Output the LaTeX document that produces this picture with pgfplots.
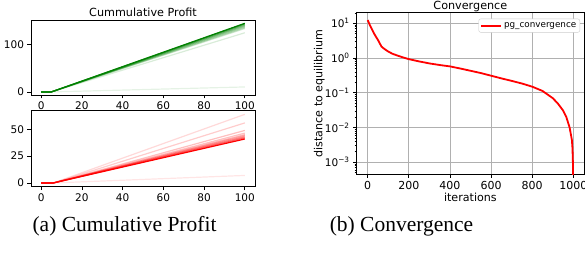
\documentclass[border=0pt]{standalone}
\usepackage{fontspec}
\setmainfont{Liberation Serif}
\newfontfamily\dejavu{DejaVu Sans}
\usepackage{pgfplots}
\pgfplotsset{compat=1.18}
\definecolor{mplgreen}{RGB}{0,128,0}
\definecolor{mplred}{RGB}{255,0,0}
\definecolor{gridgray}{RGB}{176,176,176}
\pgfplotsset{
  every axis title shift=0pt,
  base/.style={
    scale only axis,
    anchor=south west,
    axis line style={black, line width=0.8pt},
    tick align=outside,
    xtick pos=left, ytick pos=left,
    major tick length=3.5pt,
    minor tick length=2pt,
    every tick/.style={black, line width=0.8pt},
    every minor tick/.style={black, line width=0.6pt},
    /pgf/number format/assume math mode=true,
    /pgf/number format/1000 sep={},
    ticklabel style={font=\dejavu\fontsize{10.5}{12}\selectfont},
    title style={font=\dejavu\fontsize{11.2}{13}\selectfont, at={(0.5,1)}, anchor=base, yshift=3.5pt},
  },
  gline/.style={mplgreen, line width=1.2pt, no marks},
  rline/.style={mplred, line width=1.2pt, no marks},
}
\begin{document}
\begin{tikzpicture}
\useasboundingbox (0,0) rectangle (585pt,254pt);
% ---------- top-left: cumulative profit (green) ----------
\begin{axis}[base, at={(31pt,159pt)}, width=224pt, height=75pt,
  xmin=-5, xmax=105, ymin=-6.5, ymax=152,
  xtick={0,20,40,60,80,100}, ytick={0,100},
  title={Cummulative Profit}]
\addplot[gline, opacity=0.1] coordinates {(0,0) (5,0) (100,10.5)};
\addplot[gline, opacity=0.15] coordinates {(0,0) (5,0) (100,125)};
\addplot[gline, opacity=0.2] coordinates {(0,0) (5,0) (100,134)};
\addplot[gline, opacity=0.25] coordinates {(0,0) (5,0) (100,136)};
\addplot[gline, opacity=0.3] coordinates {(0,0) (5,0) (100,138)};
\addplot[gline, opacity=0.4] coordinates {(0,0) (5,0) (100,140)};
\addplot[gline, opacity=0.5] coordinates {(0,0) (5,0) (100,142)};
\addplot[gline, opacity=0.7] coordinates {(0,0) (5,0) (100,144)};
\addplot[gline, opacity=1] coordinates {(0,0) (5,0) (100,145)};
\end{axis}
% ---------- bottom-left: cumulative profit (red) ----------
\begin{axis}[base, at={(31pt,67.3pt)}, width=224pt, height=76pt,
  xmin=-5, xmax=105, ymin=-3.5, ymax=67.4,
  xtick={0,20,40,60,80,100}, ytick={0,25,50}]
\addplot[rline, opacity=0.1] coordinates {(0,0) (6,0) (100,7)};
\addplot[rline, opacity=0.15] coordinates {(0,0) (6,0) (100,64)};
\addplot[rline, opacity=0.2] coordinates {(0,0) (6,0) (100,56)};
\addplot[rline, opacity=0.25] coordinates {(0,0) (6,0) (100,49)};
\addplot[rline, opacity=0.25] coordinates {(0,0) (6,0) (100,46.5)};
\addplot[rline, opacity=0.3] coordinates {(0,0) (6,0) (100,45)};
\addplot[rline, opacity=0.35] coordinates {(0,0) (6,0) (100,44)};
\addplot[rline, opacity=0.45] coordinates {(0,0) (6,0) (100,43)};
\addplot[rline, opacity=0.6] coordinates {(0,0) (6,0) (100,42)};
\addplot[rline, opacity=1] coordinates {(0,0) (6,0) (100,41)};
\end{axis}
% ---------- right: convergence ----------
\begin{axis}[base, at={(356.7pt,79.7pt)}, width=227.3pt, height=161.6pt,
  ymode=log,
  xmin=-53.5, xmax=1052, ymin=4.5e-4, ymax=20.2,
  xtick={0,200,400,600,800,1000},
  ytick={1e-3,1e-2,1e-1,1,10},
  minor ytick={5e-4,6e-4,7e-4,8e-4,9e-4,2e-3,3e-3,4e-3,5e-3,6e-3,7e-3,8e-3,9e-3,
    2e-2,3e-2,4e-2,5e-2,6e-2,7e-2,8e-2,9e-2,0.2,0.3,0.4,0.5,0.6,0.7,0.8,0.9,
    2,3,4,5,6,7,8,9,20},
  yticklabels={10\textsuperscript{−3},10\textsuperscript{−2},10\textsuperscript{−1},10\textsuperscript{0},10\textsuperscript{1}},
  xticklabel style={font=\dejavu\fontsize{11}{12}\selectfont},
  grid=major, major grid style={gridgray, line width=0.8pt},
  minor grid style={draw=none},
  title={Convergence},
  xlabel={iterations}, ylabel={distance to equilibrium},
  label style={font=\dejavu\fontsize{11.1}{13}\selectfont},
  xlabel style={at={(axis description cs:0.5,0)}, anchor=base, yshift=-26.7pt},
  ylabel style={at={(axis description cs:-0.1513,0.5)}, anchor=base},
  legend style={at={(1,1)}, anchor=north east, xshift=-4pt, yshift=-6pt,
    draw=gray!40, rounded corners=2pt, fill=white,
    font=\dejavu\fontsize{8.8}{10}\selectfont, inner sep=1.5pt},
  legend cell align=left,
  legend image code/.code={\draw[#1, line width=1.8pt] (0pt,0pt) -- (20pt,0pt);},
]
\addplot[mplred, line width=1.8pt, no marks] coordinates {
(0,12.4) (10,9.0) (20,6.8) (35,4.6) (50,3.3) (67,2.14) (80,1.85) (99,1.55)
(120,1.33) (148,1.16) (175,1.03) (200,0.93) (250,0.80) (300,0.70) (350,0.63)
(400,0.575) (450,0.50) (500,0.43) (550,0.37) (600,0.31) (650,0.26) (700,0.22)
(750,0.185) (800,0.15) (850,0.113) (900,0.07) (925,0.049) (950,0.031)
(966,0.02) (982,0.01) (993,0.0044) (996,0.0025) (998,0.001) (999,0.0003)
(999.5,0.0001)};
\addlegendentry{pg\_convergence}
\end{axis}
% ---------- captions ----------
\node[anchor=base, font=\fontsize{21.5}{24}\selectfont] at (124.5pt,23pt) {(a) Cumulative Profit};
\node[anchor=base, font=\fontsize{21.5}{24}\selectfont] at (401.5pt,23pt) {(b) Convergence};
\end{tikzpicture}
\end{document}
